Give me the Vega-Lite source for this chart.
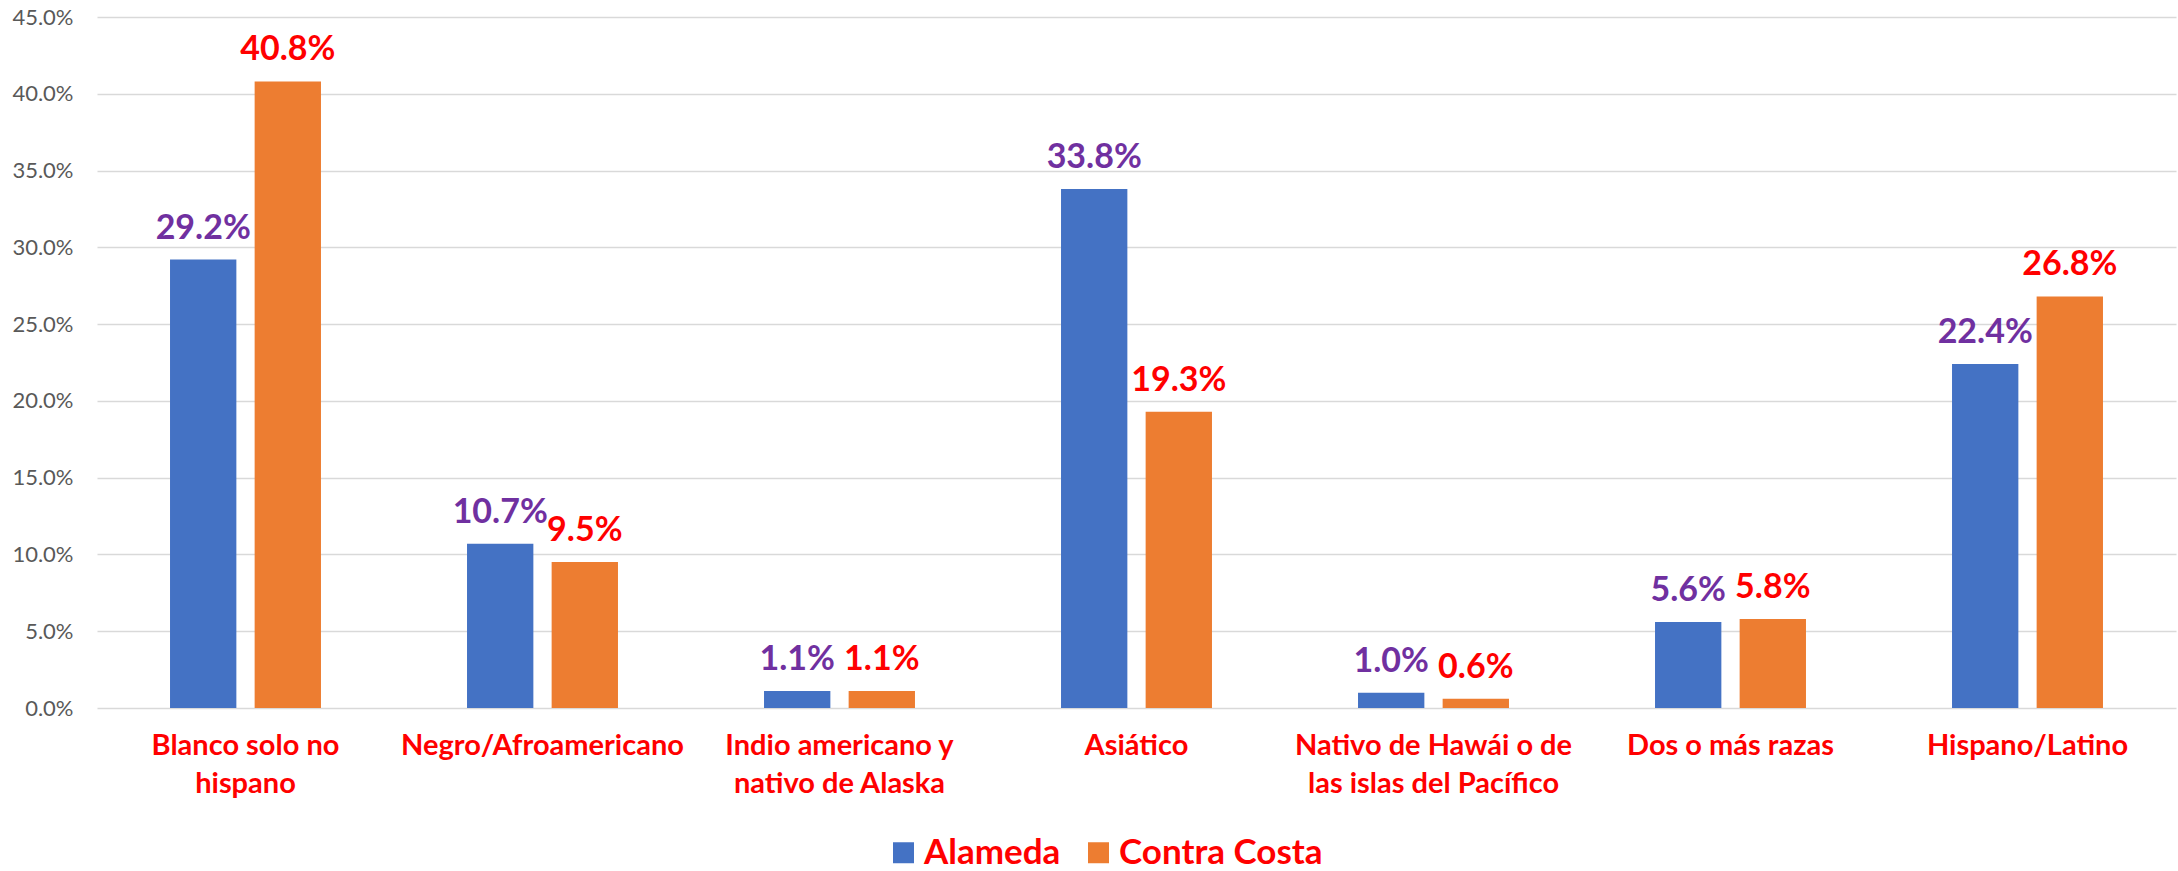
{
  "$schema": "https://vega.github.io/schema/vega-lite/v6.json",
  "width": 2079,
  "height": 691,
  "autosize": {"type": "none"},
  "padding": {"left": 97, "top": 17, "right": 2, "bottom": 163},
  "background": "white",
  "config": {
    "view": {"stroke": null},
    "font": "Lato"
  },
  "data": {
    "values": [
      {"category": "Blanco solo no hispano", "county": "Alameda", "value": 0.292},
      {"category": "Blanco solo no hispano", "county": "Contra Costa", "value": 0.408},
      {"category": "Negro/Afroamericano", "county": "Alameda", "value": 0.107},
      {"category": "Negro/Afroamericano", "county": "Contra Costa", "value": 0.095},
      {"category": "Indio americano y nativo de Alaska", "county": "Alameda", "value": 0.011},
      {"category": "Indio americano y nativo de Alaska", "county": "Contra Costa", "value": 0.011},
      {"category": "Asiático", "county": "Alameda", "value": 0.338},
      {"category": "Asiático", "county": "Contra Costa", "value": 0.193},
      {"category": "Nativo de Hawái o de las islas del Pacífico", "county": "Alameda", "value": 0.010},
      {"category": "Nativo de Hawái o de las islas del Pacífico", "county": "Contra Costa", "value": 0.006},
      {"category": "Dos o más razas", "county": "Alameda", "value": 0.056},
      {"category": "Dos o más razas", "county": "Contra Costa", "value": 0.058},
      {"category": "Hispano/Latino", "county": "Alameda", "value": 0.224},
      {"category": "Hispano/Latino", "county": "Contra Costa", "value": 0.268}
    ]
  },
  "encoding": {
    "x": {
      "field": "category",
      "type": "nominal",
      "sort": null,
      "scale": {"paddingInner": 0, "paddingOuter": 0},
      "axis": {
        "title": null,
        "labelAngle": 0,
        "domain": false,
        "ticks": false,
        "labelColor": "#FF0000",
        "labelFont": "Lato",
        "labelFontWeight": "bold",
        "labelFontSize": 29,
        "labelPadding": 23,
        "labelLineHeight": 38,
        "labelBaseline": "top",
        "labelLimit": 400,
        "labelExpr": "datum.value == 'Blanco solo no hispano' ? ['Blanco solo no', 'hispano'] : datum.value == 'Indio americano y nativo de Alaska' ? ['Indio americano y', 'nativo de Alaska'] : datum.value == 'Nativo de Hawái o de las islas del Pacífico' ? ['Nativo de Hawái o de', 'las islas del Pacífico'] : datum.value"
      }
    },
    "xOffset": {
      "field": "county",
      "type": "nominal",
      "scale": {"paddingInner": 0.216, "paddingOuter": 0.863}
    },
    "y": {
      "field": "value",
      "type": "quantitative",
      "scale": {"domain": [0, 0.45], "nice": false},
      "axis": {
        "title": null,
        "format": ".1%",
        "values": [0, 0.05, 0.1, 0.15, 0.2, 0.25, 0.3, 0.35, 0.4, 0.45],
        "domain": false,
        "ticks": false,
        "grid": true,
        "gridColor": "#D9D9D9",
        "gridWidth": 1.5,
        "labelColor": "#595959",
        "labelFont": "Lato",
        "labelFontSize": 22,
        "labelPadding": 24
      }
    }
  },
  "layer": [
    {
      "mark": {"type": "bar"},
      "encoding": {
        "color": {
          "field": "county",
          "type": "nominal",
          "scale": {"domain": ["Alameda", "Contra Costa"], "range": ["#4472C4", "#ED7D31"]},
          "legend": {
            "title": null,
            "orient": "none",
            "direction": "horizontal",
            "legendX": 789,
            "legendY": 818,
            "symbolType": "square",
            "symbolSize": 441,
            "symbolStrokeWidth": 0,
            "labelColor": "#FF0000",
            "labelFont": "Lato",
            "labelFontWeight": "bold",
            "labelFontSize": 35,
            "labelOffset": 3,
            "columnPadding": 20,
            "labelLimit": 400
          }
        }
      }
    },
    {
      "mark": {"type": "text", "baseline": "alphabetic", "dy": -21, "font": "Lato", "fontWeight": "bold", "fontSize": 34},
      "encoding": {
        "text": {"field": "value", "type": "quantitative", "format": ".1%"},
        "color": {
          "field": "county",
          "type": "nominal",
          "scale": {"domain": ["Alameda", "Contra Costa"], "range": ["#7030A0", "#FF0000"]},
          "legend": null
        }
      }
    }
  ],
  "resolve": {"scale": {"color": "independent"}}
}
